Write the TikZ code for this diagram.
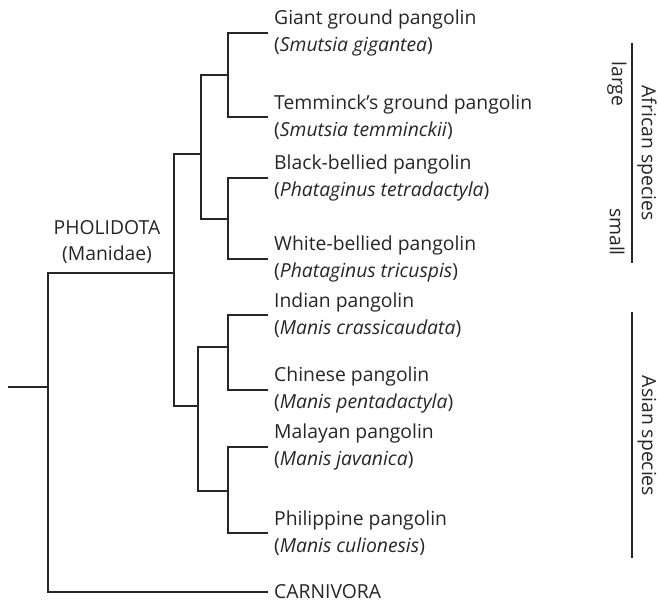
\documentclass[tikz,border=0pt]{standalone}
\usepackage{fontspec}
\setmainfont{Open Sans}
\usetikzlibrary{positioning}

\begin{document}
\begin{tikzpicture}[x=0.75pt, y=-0.75pt, line width=1.3pt, color=black!85,
leaf/.style={anchor=west, align=left, inner sep=4pt, font=\fontsize{14.5}{20}\selectfont},
clade/.style={align=center, inner sep=0pt, font=\fontsize{14.5}{19}\selectfont},
group/.style={rotate=-90, inner sep=0pt, font=\fontsize{14.5}{18}\selectfont}]
\useasboundingbox (0,0) rectangle (658,603);

% leaves
\node[leaf] (giant) at (268,33) {Giant ground pangolin\\(\textit{Smutsia gigantea})};
\node[leaf] (temm) at (268,117) {Temminck's ground pangolin\\(\textit{Smutsia temminckii})};
\node[leaf] (black) at (268,178) {Black-bellied pangolin\\(\textit{Phataginus tetradactyla})};
\node[leaf] (white) at (268,259) {White-bellied pangolin\\(\textit{Phataginus tricuspis})};
\node[leaf] (indian) at (268,315) {Indian pangolin\\(\textit{Manis crassicaudata})};
\node[leaf] (chinese) at (268,390) {Chinese pangolin\\(\textit{Manis pentadactyla})};
\node[leaf] (malayan) at (268,447) {Malayan pangolin\\(\textit{Manis javanica})};
\node[leaf] (phil) at (268,533) {Philippine pangolin\\(\textit{Manis culionesis})};
\node[leaf] (carniv) at (268,592) {CARNIVORA};
\node[clade] (pholi) at (107,242) {PHOLIDOTA\\(Manidae)};

% internal nodes
\coordinate (stub) at (8,387);
\coordinate (root) at (48,387);
\coordinate (mani) at (174,273);
\coordinate (afr) at (201,154);
\coordinate (asi) at (198,406);
\coordinate (smu) at (228,75);
\coordinate (pha) at (228,219);
\coordinate (ind) at (228,347);
\coordinate (mal) at (228,491);

\draw (stub) -- (root);
\draw (root) |- (mani);
\draw (root) |- (carniv.west);
\draw (mani) |- (afr);
\draw (mani) |- (asi);
\draw (afr) |- (smu);
\draw (afr) |- (pha);
\draw (asi) |- (ind);
\draw (asi) |- (mal);
\draw (smu) |- (giant.west);
\draw (smu) |- (temm.west);
\draw (pha) |- (black.west);
\draw (pha) |- (white.west);
\draw (ind) |- (indian.west);
\draw (ind) |- (chinese.west);
\draw (mal) |- (malayan.west);
\draw (mal) |- (phil.west);

% species groups
\coordinate (afrtop) at (632,43);
\coordinate (afrbot) at (632,263);
\coordinate (asitop) at (632,312);
\coordinate (asibot) at (632,558);
\draw (afrtop) -- (afrbot);
\draw (asitop) -- (asibot);
\node[group] (african) at (647,153) {African species};
\node[group] (large) at (617,84) {large};
\node[group] (small) at (617,232) {small};
\node[group] (asian) at (647,436) {Asian species};
\end{tikzpicture}
\end{document}
